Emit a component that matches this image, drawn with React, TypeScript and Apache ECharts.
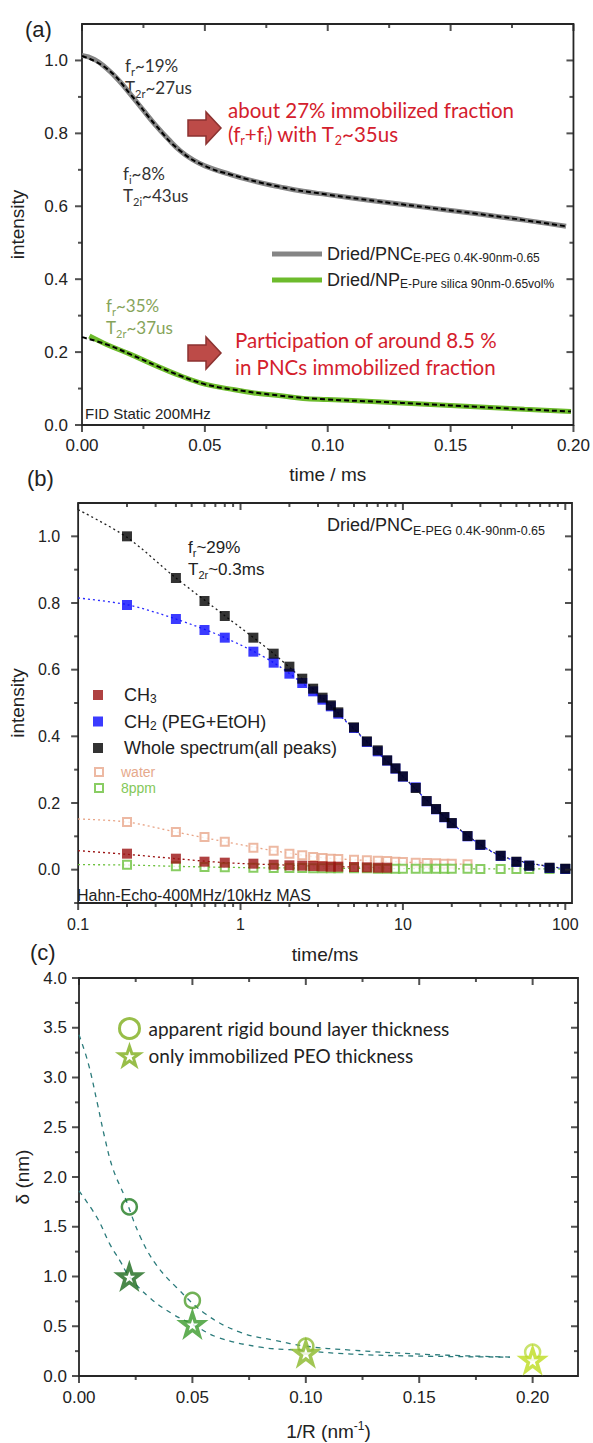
import React, { useEffect, useRef } from "react";
import * as echarts from "echarts";

const SANS = "'Liberation Sans', Arial, sans-serif";
const CAL = "Lato, 'Open Sans', sans-serif";
const INK = "#222";
const FRAME = "#262626";
const RED = "#d4202c";

// ---------------- Panel (a): FID static 200 MHz ----------------
const pncTime = [0, 0.005, 0.01, 0.015, 0.02, 0.025, 0.03, 0.035, 0.04, 0.045, 0.05, 0.06, 0.07, 0.08, 0.09, 0.1, 0.12, 0.14, 0.16, 0.18, 0.197];
const pncIntensity = [1.014, 1.003, 0.978, 0.945, 0.905, 0.863, 0.822, 0.785, 0.752, 0.728, 0.711, 0.688, 0.669, 0.654, 0.641, 0.632, 0.614, 0.597, 0.58, 0.562, 0.545];
const pncFitTime = [0, 0.01, 0.02, 0.03, 0.04, 0.05, 0.06, 0.08, 0.1, 0.12, 0.14, 0.16, 0.18, 0.197];
const pncFit = [1.012, 0.978, 0.905, 0.822, 0.752, 0.711, 0.688, 0.654, 0.632, 0.614, 0.597, 0.58, 0.562, 0.545];
const npTime = [0.003, 0.01, 0.02, 0.03, 0.04, 0.05, 0.06, 0.07, 0.08, 0.09, 0.1, 0.12, 0.14, 0.16, 0.18, 0.199];
const npIntensity = [0.244, 0.221, 0.193, 0.163, 0.135, 0.112, 0.099, 0.088, 0.081, 0.073, 0.07, 0.064, 0.057, 0.05, 0.043, 0.037];
const npFitTime = [0, 0.01, 0.02, 0.03, 0.04, 0.05, 0.06, 0.08, 0.1, 0.12, 0.14, 0.16, 0.18, 0.199];
const npFit = [0.241, 0.221, 0.193, 0.163, 0.135, 0.112, 0.099, 0.081, 0.07, 0.064, 0.057, 0.05, 0.043, 0.037];
const aXRange = [0, 0.2];
const aYRange = [0, 1.1];
const aXTicks = [0, 0.05, 0.1, 0.15, 0.2];
const aXMinor = [0.025, 0.075, 0.125, 0.175];
const aYTicks = [0, 0.2, 0.4, 0.6, 0.8, 1.0];
const aYMinor = [0.1, 0.3, 0.5, 0.7, 0.9];

// ---------------- Panel (b): Hahn echo 400 MHz ----------------
const echoTime = [0.2, 0.4, 0.6, 0.8, 1.2, 1.6, 2, 2.4, 2.8, 3.2, 3.6, 4, 5, 6, 7, 8, 9, 10, 12, 14, 16, 18, 20, 25, 30, 40, 50, 60, 80, 100];
const wholeSpectrum = [1.0, 0.875, 0.806, 0.761, 0.696, 0.648, 0.609, 0.573, 0.543, 0.516, 0.493, 0.472, 0.427, 0.385, 0.358, 0.328, 0.304, 0.28, 0.245, 0.206, 0.182, 0.158, 0.14, 0.101, 0.075, 0.042, 0.024, 0.012, 0.006, 0.003];
const ch2 = [0.794, 0.752, 0.719, 0.696, 0.654, 0.621, 0.588, 0.56, 0.535, 0.51, 0.49, 0.468, 0.425, 0.383, 0.355, 0.327, 0.303, 0.279, 0.247, 0.205, 0.181, 0.157, 0.139, 0.1, 0.074, 0.041, 0.023, 0.012, 0.005, 0.002];
const ppm8 = [0.015, 0.01, 0.008, 0.007, 0.006, 0.005, 0.005, 0.005, 0.004, 0.004, 0.004, 0.004, 0.004, 0.004, 0.003, 0.003, 0.003, 0.003, 0.003, 0.003, 0.003, 0.003, 0.003, 0.003, 0.002, 0.002, 0.002, 0.002, 0.002, 0.002];
const ch3Time = [0.2, 0.4, 0.6, 0.8, 1.2, 1.6, 2, 2.4, 2.8, 3.2, 3.6, 4, 5, 6, 7, 8];
const ch3 = [0.048, 0.033, 0.024, 0.021, 0.018, 0.015, 0.013, 0.012, 0.011, 0.01, 0.009, 0.009, 0.008, 0.007, 0.006, 0.006];
const waterTime = [0.2, 0.4, 0.6, 0.8, 1.2, 1.6, 2, 2.4, 2.8, 3.2, 3.6, 4, 5, 6, 7, 8, 9, 10, 12, 14, 16, 18, 20, 25];
const water = [0.143, 0.113, 0.098, 0.084, 0.066, 0.057, 0.048, 0.043, 0.038, 0.035, 0.033, 0.032, 0.03, 0.028, 0.027, 0.026, 0.024, 0.023, 0.021, 0.02, 0.019, 0.018, 0.018, 0.016];
const wholeFitTime = [0.1, 0.2, 0.4, 0.8, 1.6, 3.2, 6, 10, 20, 40, 100];
const wholeFit = [1.08, 0.997, 0.875, 0.762, 0.648, 0.516, 0.385, 0.28, 0.14, 0.042, 0.003];
const ch2Fit = [0.815, 0.795, 0.752, 0.696, 0.621, 0.51, 0.383, 0.279, 0.139, 0.041, 0.002];
const ch3FitTime = [0.1, 0.2, 0.4, 0.8, 1.6, 4, 8];
const ch3Fit = [0.057, 0.046, 0.033, 0.021, 0.015, 0.009, 0.006];
const waterFitTime = [0.1, 0.2, 0.4, 0.8, 1.6, 3.2, 10, 25];
const waterFit = [0.152, 0.143, 0.113, 0.084, 0.057, 0.036, 0.023, 0.016];
const ppmFitTime = [0.1, 0.2, 0.4, 0.8, 2, 10, 100];
const ppmFit = [0.015, 0.014, 0.01, 0.007, 0.005, 0.003, 0.002];
const bXRange = [0.1, 110];
const bYRange = [-0.1, 1.1];
const bXTicks = [0.1, 1, 10, 100];
const bXMinor = [0.2, 0.3, 0.4, 0.5, 0.6, 0.7, 0.8, 0.9, 2, 3, 4, 5, 6, 7, 8, 9, 20, 30, 40, 50, 60, 70, 80, 90];
const bYTicks = [0, 0.2, 0.4, 0.6, 0.8, 1.0];
const bYMinor = [-0.1, 0.1, 0.3, 0.5, 0.7, 0.9];

// ---------------- Panel (c): layer thickness vs 1/R ----------------
const invRadius = [0.0222, 0.05, 0.1, 0.2];
const apparentLayer = [1.7, 0.76, 0.3, 0.24];
const immobilizedPEO = [1.0, 0.52, 0.23, 0.16];
const circleColors = ["#1f7a1f", "#4e9e2c", "#8cbc34", "#bcdc48"];
const starColors = ["#1c6a1c", "#3a9a2a", "#8ab828", "#bedc1e"];
const upperFitX = [0, 0.004, 0.008, 0.0115, 0.015, 0.02, 0.027, 0.034, 0.043, 0.056, 0.071, 0.086, 0.1, 0.12, 0.15, 0.19];
const upperFitY = [3.43, 3.15, 2.75, 2.38, 2.08, 1.81, 1.4, 1.12, 0.89, 0.62, 0.44, 0.36, 0.3, 0.26, 0.22, 0.19];
const lowerFitX = [0, 0.008, 0.0137, 0.018, 0.0222, 0.031, 0.0415, 0.05, 0.061, 0.08, 0.096, 0.12, 0.15, 0.19];
const lowerFitY = [1.86, 1.59, 1.32, 1.16, 1.0, 0.79, 0.62, 0.52, 0.39, 0.29, 0.26, 0.22, 0.2, 0.19];
const cXRange = [0, 0.22];
const cYRange = [0, 4];
const cXTicks = [0, 0.05, 0.1, 0.15, 0.2];
const cXMinor = [0.025, 0.075, 0.125, 0.175];
const cYTicks = [0, 0.5, 1, 1.5, 2, 2.5, 3, 3.5, 4];
const cYMinor = [0.25, 0.75, 1.25, 1.75, 2.25, 2.75, 3.25, 3.75];

const STAR = "path://M50,2 L61.8,36.5 L98,36.5 L68.8,58 L79.9,92.5 L50,71.3 L20.1,92.5 L31.2,58 L2,36.5 L38.2,36.5 Z";

const zip = (xs: number[], ys: number[]) => xs.map((x, i) => [x, ys[i]]);

function mainAxis(gridIndex: number, cfg: any) {
  const ax: any = {
    type: cfg.type || "value",
    gridIndex,
    min: cfg.range[0],
    max: cfg.range[1],
    position: cfg.position,
    splitLine: { show: false },
    axisPointer: { show: false },
    axisLine: { show: false, onZero: false },
    axisTick: { show: false },
    name: cfg.name,
    nameLocation: "middle",
    nameGap: cfg.nameGap,
    nameTextStyle: { fontFamily: SANS, fontSize: 19, color: INK, ...(cfg.nameStyle || {}) },
    axisLabel: {
      show: true,
      customValues: cfg.majors,
      formatter: cfg.fmt,
      margin: cfg.margin,
      color: INK,
      fontSize: cfg.labelSize,
      fontFamily: SANS,
    },
  };
  if (cfg.type === "log") ax.logBase = 10;
  return ax;
}

// Frame tick marks drawn as thin bar symbols placed through the grid's axes:
// outward on bottom/left, inward on top/right.
function tickSeries(g: number, xr: number[], yr: number[], xMaj: number[], xMin: number[], yMaj: number[], yMin: number[]) {
  const W = 2;
  const data: any[] = [];
  const xt = (vals: number[], L: number) =>
    vals.forEach((v) => {
      data.push({ value: [v, yr[0]], symbolSize: [W, L], symbolOffset: [0, L / 2] });
      data.push({ value: [v, yr[1]], symbolSize: [W, L], symbolOffset: [0, L / 2] });
    });
  const yt = (vals: number[], L: number) =>
    vals.forEach((v) => {
      data.push({ value: [xr[0], v], symbolSize: [L, W], symbolOffset: [-L / 2, 0] });
      data.push({ value: [xr[1], v], symbolSize: [L, W], symbolOffset: [-L / 2, 0] });
    });
  xt(xMaj, 7);
  xt(xMin, 4);
  yt(yMaj, 7);
  yt(yMin, 4);
  return {
    type: "scatter",
    xAxisIndex: g,
    yAxisIndex: g,
    symbol: "rect",
    clip: false,
    silent: true,
    z: 20,
    itemStyle: { color: FRAME },
    emphasis: { disabled: true },
    data,
  };
}

function txt(x: number, y: number, text: string, size: number, fill: string, family: string, subSize = 11) {
  return {
    type: "text",
    x,
    y,
    silent: true,
    style: {
      text,
      fill,
      fontSize: size,
      fontFamily: family,
      align: "left",
      verticalAlign: "middle",
      lineHeight: size + 6,
      rich: {
        s: { fill, fontSize: subSize, fontFamily: family, verticalAlign: "bottom", lineHeight: subSize },
      },
    },
  };
}

function arrow(x0: number, yc: number) {
  return {
    type: "polygon",
    silent: true,
    shape: {
      points: [
        [x0, yc - 8],
        [x0 + 18, yc - 8],
        [x0 + 18, yc - 16],
        [x0 + 33, yc],
        [x0 + 18, yc + 16],
        [x0 + 18, yc + 8],
        [x0, yc + 8],
      ],
    },
    style: { fill: "#bd4b48", stroke: "#8c3230", lineWidth: 1.5 },
  };
}

const olive = "#86a45a";
const annotations = [
  txt(25, 29, "(a)", 22, INK, SANS),
  txt(27, 478, "(b)", 22, INK, SANS),
  txt(30, 952, "(c)", 22, INK, SANS),
  // (a)
  txt(125, 65, "f{s|r}~19%", 17, "#333", CAL),
  txt(125, 87, "T{s|2r}~27us", 17, "#333", CAL),
  txt(123, 173, "f{s|i}~8%", 17, "#333", CAL),
  txt(123, 195, "T{s|2i}~43us", 17, "#333", CAL),
  arrow(188, 128),
  txt(228, 110, "about 27% immobilized fraction", 20.5, RED, CAL, 12.5),
  txt(228, 134, "(f{s|r}+f{s|i}) with T{s|2}~35us", 20.5, RED, CAL, 12.5),
  txt(106, 305, "f{s|r}~35%", 17, olive, CAL),
  txt(106, 327, "T{s|2r}~37us", 17, olive, CAL),
  arrow(188, 353),
  txt(235, 340, "Participation of around 8.5 %", 20.5, RED, CAL, 12.5),
  txt(235, 367, "in PNCs immobilized fraction", 20.5, RED, CAL, 12.5),
  txt(85, 413, "FID Static 200MHz", 15, INK, SANS),
  // (b)
  txt(327, 525, "Dried/PNC{s|E-PEG 0.4K-90nm-0.65}", 18, INK, SANS, 12.5),
  txt(188, 547, "f{s|r}~29%", 17, INK, SANS),
  txt(188, 569, "T{s|2r}~0.3ms", 17, INK, SANS),
  txt(77, 895, "Hahn-Echo-400MHz/10kHz MAS", 16, INK, SANS),
];

function buildOption() {
  const fmt2 = (v: number) => v.toFixed(2);
  const fmt1 = (v: number) => v.toFixed(1);
  const xAxes = [
    mainAxis(0, { position: "bottom", range: aXRange, majors: aXTicks, fmt: fmt2, name: "time / ms", nameGap: 40, margin: 12, labelSize: 17 }),
    mainAxis(1, { position: "bottom", type: "log", range: bXRange, majors: bXTicks, fmt: (v: number) => String(v), name: "time/ms", nameGap: 42, margin: 13, labelSize: 16 }),
    mainAxis(2, {
      position: "bottom", range: cXRange, majors: cXTicks, fmt: fmt2, name: "1/R (nm{sup|-1})", nameGap: 44, margin: 13, labelSize: 17,
      nameStyle: { rich: { sup: { fontFamily: SANS, fontSize: 12, color: INK, verticalAlign: "top", lineHeight: 12 } }, lineHeight: 22 },
    }),
  ];
  const yAxes = [
    mainAxis(0, { position: "left", range: aYRange, majors: aYTicks, fmt: fmt1, name: "intensity", nameGap: 55, margin: 14, labelSize: 17 }),
    mainAxis(1, { position: "left", range: bYRange, majors: bYTicks, fmt: fmt1, name: "intensity", nameGap: 46, margin: 18, labelSize: 16 }),
    mainAxis(2, { position: "left", range: cYRange, majors: cYTicks, fmt: fmt1, name: "δ (nm)", nameGap: 46, margin: 12, labelSize: 17 }),
  ];

  const sq = (name: string, xs: number[], ys: number[], color: string, z: number) => ({
    name, type: "scatter", xAxisIndex: 1, yAxisIndex: 1, symbol: "rect", symbolSize: 10,
    itemStyle: { color }, data: zip(xs, ys), z,
  });
  const hollowSq = (name: string, xs: number[], ys: number[], color: string, z: number) => ({
    name, type: "scatter", xAxisIndex: 1, yAxisIndex: 1, symbol: "rect", symbolSize: 8,
    itemStyle: { color: "#fff", borderColor: color, borderWidth: 2 }, data: zip(xs, ys), z,
  });
  const dotted = (xs: number[], ys: number[], color: string, z: number) => ({
    type: "line", xAxisIndex: 1, yAxisIndex: 1, symbol: "none", smooth: 0.3,
    lineStyle: { color, width: 1.3, type: [2, 3] }, data: zip(xs, ys), z, silent: true,
  });
  const dashedC = (xs: number[], ys: number[]) => ({
    type: "line", xAxisIndex: 2, yAxisIndex: 2, symbol: "none", smooth: 0.4,
    lineStyle: { color: "#2b7b7b", width: 1.3, type: [5, 5] }, data: zip(xs, ys), z: 1, silent: true,
  });

  const series: any[] = [
    // (a)
    { name: "Dried/PNC", type: "line", xAxisIndex: 0, yAxisIndex: 0, symbol: "none", smooth: 0.5, lineStyle: { color: "#858585", width: 5 }, itemStyle: { color: "#858585" }, data: zip(pncTime, pncIntensity), z: 2 },
    { type: "line", xAxisIndex: 0, yAxisIndex: 0, symbol: "none", smooth: 0.5, lineStyle: { color: "#000", width: 2, type: [5, 3] }, data: zip(pncFitTime, pncFit), z: 3, silent: true },
    { name: "Dried/NP", type: "line", xAxisIndex: 0, yAxisIndex: 0, symbol: "none", smooth: 0.4, lineStyle: { color: "#6dbb2c", width: 5 }, itemStyle: { color: "#6dbb2c" }, data: zip(npTime, npIntensity), z: 2 },
    { type: "line", xAxisIndex: 0, yAxisIndex: 0, symbol: "none", smooth: 0.4, lineStyle: { color: "#000", width: 2, type: [5, 3] }, data: zip(npFitTime, npFit), z: 3, silent: true },
    // (b)
    dotted(wholeFitTime, wholeFit, "#222", 2),
    dotted(wholeFitTime, ch2Fit, "#2a2aff", 2),
    dotted(ch3FitTime, ch3Fit, "#9a1010", 2),
    dotted(waterFitTime, waterFit, "#e8a486", 2),
    dotted(ppmFitTime, ppmFit, "#6cc03c", 2),
    hollowSq("water", waterTime, water, "#e8a88c", 3),
    hollowSq("8ppm", echoTime, ppm8, "#6cc03c", 3),
    sq("CH3", ch3Time, ch3, "#9b1212", 4),
    sq("CH2", echoTime, ch2, "#0a0aff", 5),
    sq("Whole spectrum", echoTime, wholeSpectrum, "#000", 6),
    // (c)
    dashedC(upperFitX, upperFitY),
    dashedC(lowerFitX, lowerFitY),
    {
      name: "apparent rigid bound layer thickness",
      type: "scatter", xAxisIndex: 2, yAxisIndex: 2, symbol: "circle", symbolSize: 15,
      itemStyle: { color: "rgba(255,255,255,0)", borderColor: "#7eae1c", borderWidth: 2.5 },
      data: invRadius.map((x, i) => ({ value: [x, apparentLayer[i]], itemStyle: { borderColor: circleColors[i] } })),
      z: 3,
    },
    {
      name: "only immobilized PEO thickness",
      type: "scatter", xAxisIndex: 2, yAxisIndex: 2, symbol: STAR, symbolSize: 22,
      itemStyle: { color: "#fff", borderColor: "#7eae1c", borderWidth: 3.5 },
      data: invRadius.map((x, i) => ({ value: [x, immobilizedPEO[i]], itemStyle: { borderColor: starColors[i] } })),
      z: 4,
    },
    // frame ticks
    tickSeries(0, aXRange, aYRange, aXTicks, aXMinor, aYTicks, aYMinor),
    tickSeries(1, bXRange, bYRange, bXTicks, bXMinor, bYTicks, bYMinor),
    tickSeries(2, cXRange, cYRange, cXTicks, cXMinor, cYTicks, cYMinor),
  ];

  const subRich = { s: { fontFamily: SANS, fontSize: 12, color: INK, verticalAlign: "bottom", lineHeight: 11 } };
  const legends = [
    {
      left: 272, top: 244, padding: 0, orient: "vertical", icon: "rect",
      itemWidth: 50, itemHeight: 5, itemGap: 6, selectedMode: false,
      data: ["Dried/PNC", "Dried/NP"],
      formatter: (n: string) => (n === "Dried/PNC" ? "Dried/PNC{s|E-PEG 0.4K-90nm-0.65}" : "Dried/NP{s|E-Pure silica 90nm-0.65vol%}"),
      textStyle: { fontFamily: SANS, fontSize: 18, color: INK, lineHeight: 20, rich: subRich },
    },
    {
      left: 93, top: 685, padding: 0, orient: "vertical",
      itemWidth: 10, itemHeight: 10, itemGap: 6.5, selectedMode: false,
      data: ["CH3", "CH2", "Whole spectrum"],
      formatter: (n: string) => (n === "CH3" ? "CH{s|3}" : n === "CH2" ? "CH{s|2} (PEG+EtOH)" : "Whole spectrum(all peaks)"),
      textStyle: { fontFamily: SANS, fontSize: 18, color: INK, lineHeight: 20, padding: [0, 0, 0, 16], rich: subRich },
    },
    {
      left: 94, top: 764, padding: 0, orient: "vertical",
      itemWidth: 8, itemHeight: 8, itemGap: 0, selectedMode: false,
      data: [
        { name: "water", textStyle: { color: "#e6a98c" } },
        { name: "8ppm", textStyle: { color: "#84c85a" } },
      ],
      textStyle: { fontFamily: SANS, fontSize: 14, lineHeight: 16, padding: [0, 0, 0, 13] },
    },
    {
      left: 118, top: 1017, padding: 0, orient: "vertical",
      itemWidth: 20, itemHeight: 20, itemGap: 5, selectedMode: false,
      itemStyle: { borderWidth: 3 },
      data: ["apparent rigid bound layer thickness", "only immobilized PEO thickness"],
      textStyle: { fontFamily: CAL, fontSize: 19, color: INK, lineHeight: 20, padding: [0, 0, 0, 4] },
    },
  ];

  const gridStyle = { show: true, borderColor: FRAME, borderWidth: 1.8, backgroundColor: "transparent" };
  return {
    animation: false,
    backgroundColor: "#fff",
    grid: [
      { ...gridStyle, left: 78, right: 16, top: 24, height: 401 },
      { ...gridStyle, left: 73, right: 21, top: 503, height: 400 },
      { ...gridStyle, left: 79, right: 15, top: 978, height: 401 },
    ],
    xAxis: xAxes,
    yAxis: yAxes,
    legend: legends,
    series,
    graphic: annotations,
  };
}

export default function App() {
  const ref = useRef<HTMLDivElement>(null);
  useEffect(() => {
    document.body.style.margin = "0";
    if (!ref.current) return;
    const chart = echarts.init(ref.current, null, { renderer: "svg" });
    chart.setOption(buildOption() as any);
    return () => chart.dispose();
  }, []);
  return <div ref={ref} style={{ width: 593, height: 1443 }} />;
}
